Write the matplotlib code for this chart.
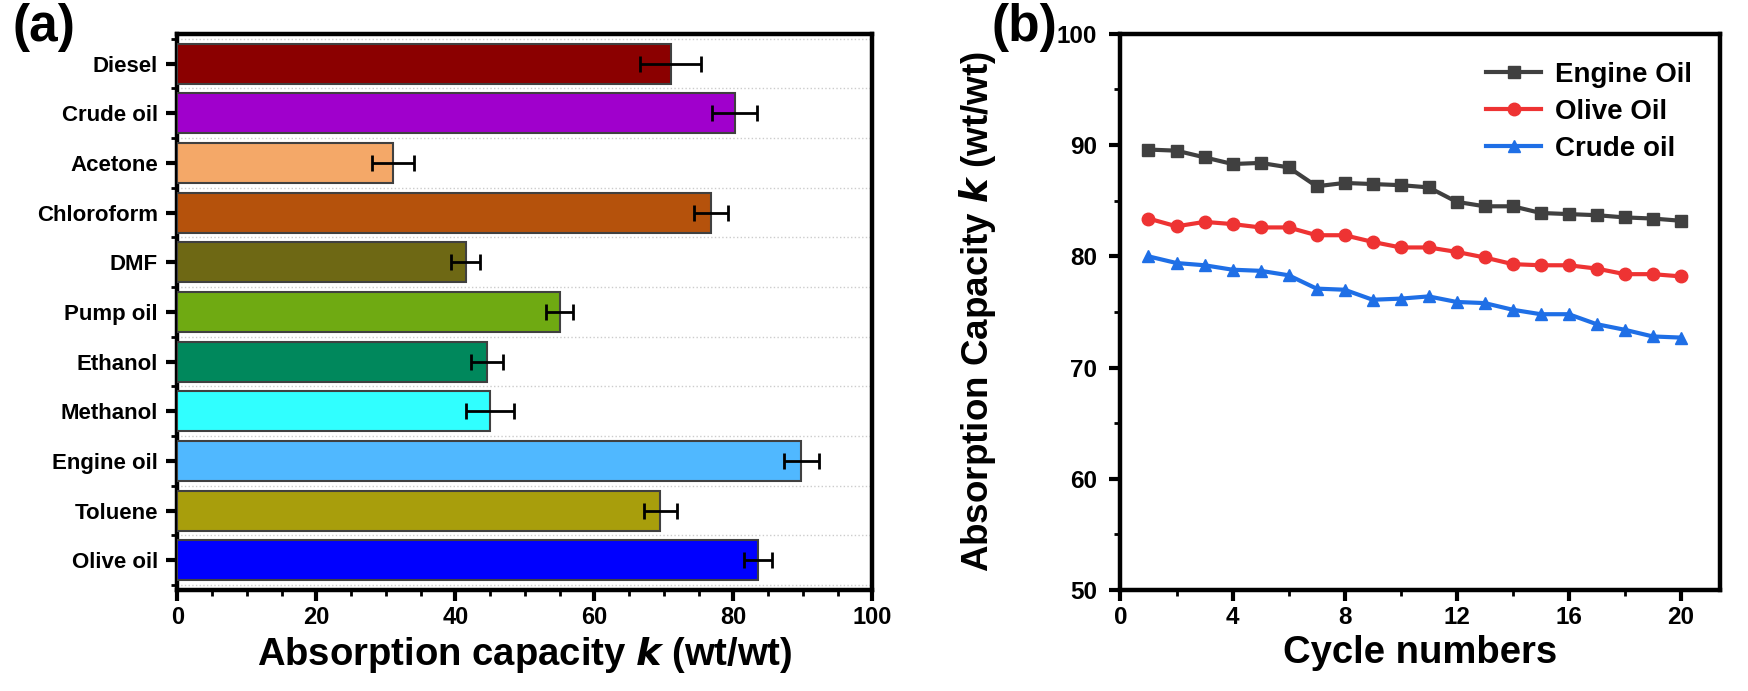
import numpy as np
import matplotlib
matplotlib.use("Agg")
import matplotlib.pyplot as plt
from matplotlib.ticker import MultipleLocator

plt.rcParams['font.family'] = ['Liberation Sans', 'DejaVu Sans']
plt.rcParams['font.weight'] = 'bold'

# --- datos panel (a) ---
solventes = ['Diesel', 'Crude oil', 'Acetone', 'Chloroform', 'DMF', 'Pump oil',
             'Ethanol', 'Methanol', 'Engine oil', 'Toluene', 'Olive oil']
capacidad = [71.0, 80.2, 31.0, 76.8, 41.5, 55.0, 44.6, 45.0, 89.8, 69.5, 83.6]
error = [4.4, 3.2, 3.0, 2.4, 2.1, 2.0, 2.3, 3.5, 2.5, 2.4, 2.0]
colores = ['#8B0000', '#A000CC', '#F4A868', '#B5520C', '#6E6814', '#6FAA12',
           '#00885C', '#30FFFF', '#50B8FF', '#A89E0C', '#0000FF']

# --- datos panel (b) ---
ciclos = list(range(1, 21))
engine = [89.6, 89.5, 88.9, 88.3, 88.4, 88.0, 86.3, 86.6, 86.5, 86.4,
          86.2, 84.9, 84.5, 84.5, 83.9, 83.8, 83.7, 83.5, 83.4, 83.2]
olive = [83.4, 82.7, 83.1, 82.9, 82.6, 82.6, 81.9, 81.9, 81.3, 80.8,
         80.8, 80.4, 79.9, 79.3, 79.2, 79.2, 78.9, 78.4, 78.4, 78.2]
crude = [80.0, 79.4, 79.2, 78.8, 78.7, 78.3, 77.1, 77.0, 76.1, 76.2,
         76.4, 75.9, 75.8, 75.2, 74.8, 74.8, 73.9, 73.4, 72.8, 72.7]

fig = plt.figure(figsize=(17.48, 6.91), dpi=100)
ax1 = fig.add_axes([0.1015, 0.146, 0.3975, 0.805])
ax2 = fig.add_axes([0.641, 0.146, 0.343, 0.805])

def estilo(ax, ts):
    for s in ax.spines.values():
        s.set_linewidth(3.2)
    ax.tick_params(which='major', direction='out', length=8, width=3, labelsize=ts)
    ax.tick_params(which='minor', direction='out', length=4, width=2)

# (a) barras horizontales
y = np.arange(len(solventes))
ax1.barh(y, capacidad, height=0.8, color=colores, edgecolor='#404040', linewidth=1.5, zorder=3)
ax1.errorbar(capacidad, y, xerr=error, fmt='none', ecolor='black', elinewidth=2,
             capsize=6, capthick=2, zorder=4)
ax1.set_yticks(y)
ax1.set_yticklabels(solventes)
ax1.set_yticks(np.arange(-0.5, len(solventes), 1), minor=True)
ax1.set_ylim(len(solventes) - 0.4, -0.6)
ax1.set_xlim(0, 100)
ax1.xaxis.set_major_locator(MultipleLocator(20))
ax1.xaxis.set_minor_locator(MultipleLocator(5))
ax1.grid(which='minor', axis='y', color='#cccccc', linestyle=':', linewidth=1, zorder=0)
ax1.set_xlabel('Absorption capacity $\\boldsymbol{k}$ (wt/wt)', fontsize=27.5, fontweight='bold')
estilo(ax1, 16)
ax1.tick_params(axis='x', labelsize=17)
ax1.tick_params(axis='y', which='major', pad=6)

# (b) ciclos
ax2.plot(ciclos, engine, '-s', color='#404040', lw=3, ms=9, label='Engine Oil')
ax2.plot(ciclos, olive, '-o', color='#EE3333', lw=3, ms=9, label='Olive Oil')
ax2.plot(ciclos, crude, '-^', color='#1F6FE6', lw=3, ms=9, label='Crude oil')
ax2.set_xlim(0, 21.4)
ax2.set_ylim(50, 100)
ax2.xaxis.set_major_locator(MultipleLocator(4))
ax2.xaxis.set_minor_locator(MultipleLocator(2))
ax2.yaxis.set_major_locator(MultipleLocator(10))
ax2.yaxis.set_minor_locator(MultipleLocator(5))
ax2.set_xlabel('Cycle numbers', fontsize=27.5, fontweight='bold')
ax2.set_ylabel('Absorption Capacity $\\boldsymbol{k}$ (wt/wt)', fontsize=26.5, fontweight='bold', labelpad=42)
ax2.legend(loc='upper right', frameon=False, fontsize=20, handlelength=2.0,
           borderaxespad=0.6, labelspacing=0.4, handletextpad=0.5)
estilo(ax2, 17.5)
ax2.tick_params(axis='y', which='major', pad=9)

fig.text(0.007, 0.995, '(a)', fontsize=37, fontweight='bold', va='top')
fig.text(0.567, 0.995, '(b)', fontsize=37, fontweight='bold', va='top')

fig.savefig('out.png', dpi=100)
